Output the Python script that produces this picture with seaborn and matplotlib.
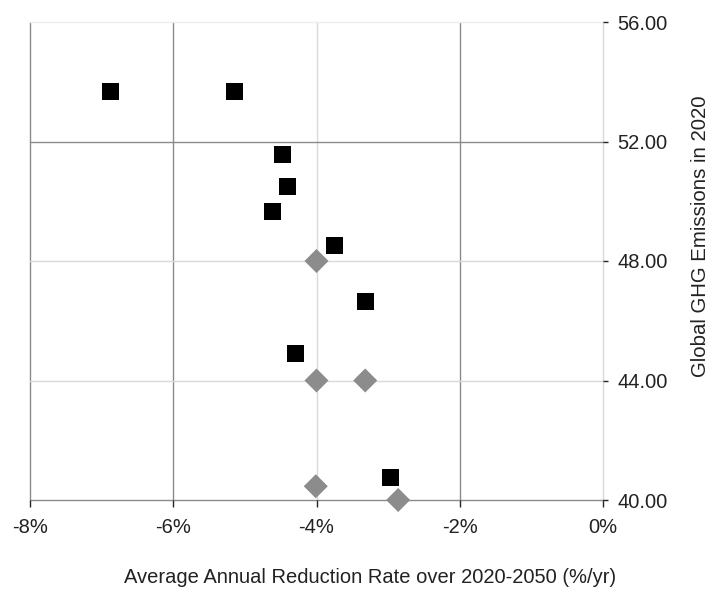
import matplotlib

matplotlib.use("Agg")

import matplotlib.pyplot as plt
import pandas as pd
import seaborn as sns
from matplotlib.ticker import FuncFormatter

# black squares
square_rate = [-6.88, -5.15, -4.47, -4.40, -4.62, -3.75, -3.31, -4.30, -2.96]
square_emis = [53.69, 53.69, 51.55, 50.48, 49.65, 48.51, 46.64, 44.90, 40.75]
# grey diamonds
diamond_rate = [-4.00, -4.00, -3.32, -4.01, -2.86]
diamond_emis = [48.00, 44.00, 44.00, 40.46, 40.00]

x_ticks = [-8, -6, -4, -2, 0]
y_ticks = [40, 44, 48, 52, 56]

df = pd.concat(
    [
        pd.DataFrame({"rate": square_rate, "emis": square_emis, "grp": "square"}),
        pd.DataFrame({"rate": diamond_rate, "emis": diamond_emis, "grp": "diamond"}),
    ],
    ignore_index=True,
)

sns.set_theme(style="white")
plt.rcParams["font.family"] = ["Liberation Sans", "DejaVu Sans"]

DARK = "#8a8a8a"
LIGHT = "#d9d9d9"
TXT = "#222222"
FS = 14.5

fig = plt.figure(figsize=(7.25, 5.92), dpi=100)
ax = fig.add_axes([30 / 725, 92 / 592, 573 / 725, 478 / 592])

# grid: light everywhere, dark on a few lines
for xv in x_ticks:
    ax.axvline(xv, color=DARK if xv in (-8, -6, -2) else LIGHT, lw=1, zorder=0, clip_on=False)
for yv in y_ticks:
    c = DARK if yv in (40, 52) else ("#eeeeee" if yv == 56 else LIGHT)
    ax.axhline(yv, color=c, lw=1, zorder=0, clip_on=False)

sns.scatterplot(
    data=df, x="rate", y="emis", hue="grp", style="grp",
    markers={"square": "s", "diamond": "D"},
    palette={"square": "#000000", "diamond": "#8c8c8c"},
    s=150, linewidth=0, legend=False, ax=ax, zorder=3, clip_on=False,
)

ax.set_xlim(-8, 0)
ax.set_ylim(40, 56)
ax.set_xticks(x_ticks)
ax.set_yticks(y_ticks)
ax.xaxis.set_major_formatter(FuncFormatter(lambda v, _: f"{v:.0f}%"))
ax.yaxis.set_major_formatter(FuncFormatter(lambda v, _: f"{v:.2f}"))
ax.yaxis.tick_right()
ax.yaxis.set_label_position("right")
for sp in ax.spines.values():
    sp.set_visible(False)

ax.tick_params(axis="x", length=5, width=1, direction="out", labelsize=FS,
               labelcolor=TXT, pad=8, bottom=True)
ax.tick_params(axis="y", length=3.6, width=1, direction="out", labelsize=FS,
               labelcolor=TXT, pad=7, right=True, left=False)
for t, v in zip(ax.xaxis.get_major_ticks(), x_ticks):
    t.tick1line.set_color(DARK if v in (-8, -6, -2) else LIGHT)
for t, v in zip(ax.yaxis.get_major_ticks(), y_ticks):
    t.tick2line.set_color(DARK if v in (40, 52) else LIGHT)

ax.set_xlabel("Average Annual Reduction Rate over 2020-2050 (%/yr)", fontsize=FS, color=TXT)
ax.set_ylabel("Global GHG Emissions in 2020", fontsize=14.7, color=TXT)
ax.xaxis.set_label_coords(0.593, -0.142)
ax.yaxis.set_label_coords(1.154, 0.552)

fig.savefig("out.png", dpi=100)
